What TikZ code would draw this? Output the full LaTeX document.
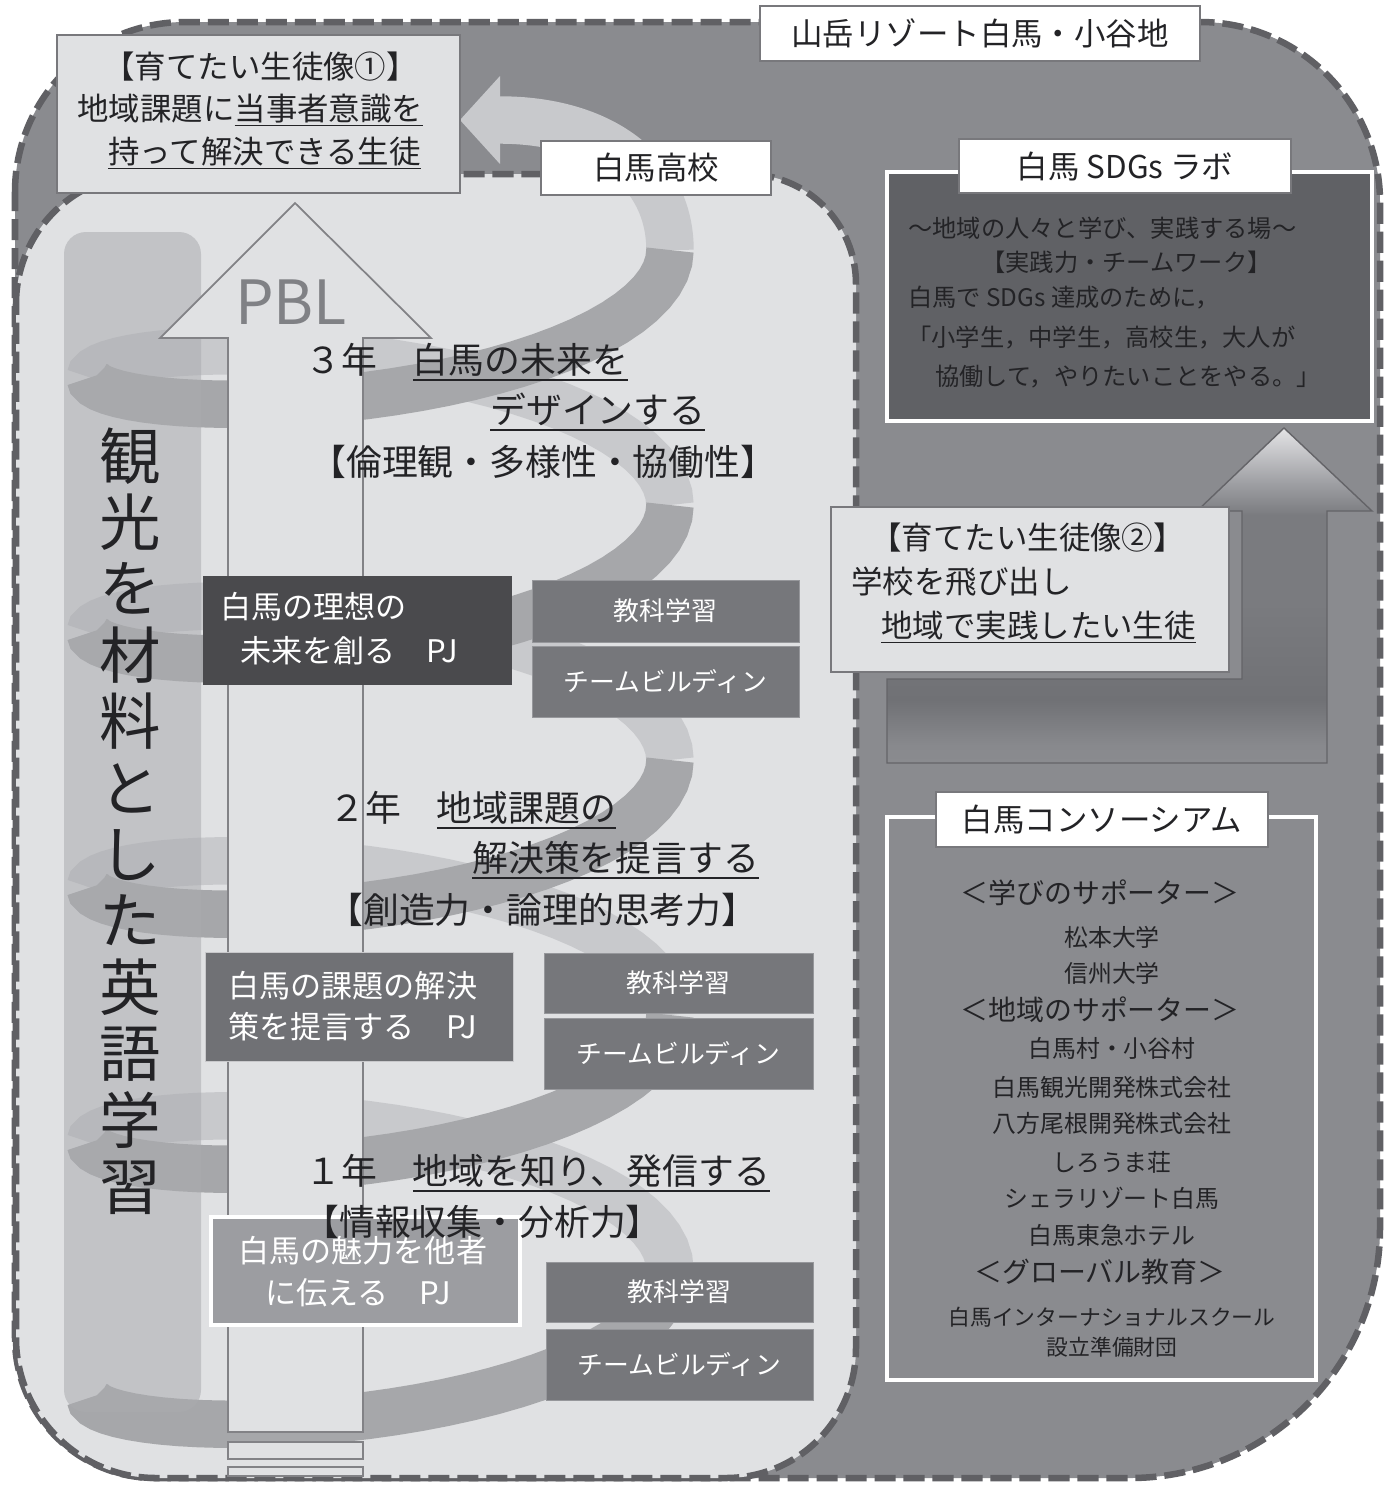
\documentclass[tikz,border=0pt]{standalone}
\usepackage{fontspec}
\setmainfont{Noto Sans CJK JP}
\usepackage{tikz}

\definecolor{outerbg}{RGB}{138,139,143}
\definecolor{schoolbg}{RGB}{224,225,227}
\definecolor{dashgray}{RGB}{96,96,100}
\definecolor{ribbonback}{RGB}{200,201,204}
\definecolor{ribbonfront}{RGB}{166,167,170}
\definecolor{barfill}{RGB}{170,171,175}
\definecolor{pbledge}{RGB}{130,130,134}
\definecolor{pbltext}{RGB}{128,129,133}
\definecolor{pjdark}{RGB}{74,74,77}
\definecolor{pjmid}{RGB}{112,113,117}
\definecolor{pjedge}{RGB}{200,200,203}
\definecolor{pjlight}{RGB}{156,157,161}
\definecolor{subjfill}{RGB}{118,119,123}
\definecolor{subjedge}{RGB}{150,151,155}
\definecolor{labfill}{RGB}{96,97,101}
\definecolor{inkdark}{RGB}{35,35,38}
\definecolor{boxedge}{RGB}{120,120,124}
\definecolor{arrowedge}{RGB}{100,100,104}
\definecolor{arrowtop}{RGB}{228,228,230}
\definecolor{arrowhigh}{RGB}{160,161,165}
\definecolor{arrowmid}{RGB}{122,123,127}
\definecolor{arrowdeep}{RGB}{112,113,117}
\definecolor{arrowlow}{RGB}{136,137,141}

\pgfdeclareverticalshading{arrowfade}{100bp}{color(0bp)=(outerbg); color(25bp)=(outerbg);
  color(27.7bp)=(arrowlow); color(34.4bp)=(arrowdeep); color(49bp)=(arrowmid);
  color(62bp)=(arrowmid); color(67bp)=(arrowhigh); color(75bp)=(arrowtop); color(100bp)=(arrowtop)}

\newcommand{\fslabel}{\fontsize{17.9}{21}\selectfont}
\newcommand{\fsyear}{\fontsize{20.4}{24}\selectfont}
\newcommand{\fspj}{\fontsize{17.7}{21}\selectfont}
\newcommand{\fssubj}{\fontsize{14.7}{18}\selectfont}
\newcommand{\fslab}{\fontsize{13.8}{17}\selectfont}
\newcommand{\fshead}{\fontsize{15.9}{19}\selectfont}
\newcommand{\fsitem}{\fontsize{13.6}{16}\selectfont}
\newcommand{\fssmall}{\fontsize{12.4}{15}\selectfont}
\newcommand{\fsvert}{\fontsize{35}{37.8}\selectfont}
\newcommand{\fspbl}{\fontsize{34.7}{40}\selectfont}
\newcommand{\undl}[1]{\setbox0=\hbox{#1}\rlap{\raisebox{-0.2em}{\rule{\wd0}{0.055em}}}\box0}

\tikzset{
  dashborder/.style={draw=dashgray, line width=3.7pt, dash pattern=on 12pt off 4.5pt},
  labelbox/.style={draw=boxedge, fill=white, line width=0.7pt, font=\fslabel, text=inkdark, inner sep=0pt},
  wishbox/.style={draw=boxedge, fill=schoolbg, line width=0.7pt},
  wishtext/.style={anchor=west, inner sep=0pt, font=\fslabel, text=inkdark},
  yeartext/.style={anchor=west, inner sep=0pt, font=\fsyear, text=inkdark},
  pjtext/.style={anchor=west, inner sep=0pt, font=\fspj, text=white},
  subjbox/.style={fill=subjfill, draw=subjedge, line width=0.5pt, font=\fssubj, text=white, inner sep=0pt},
  labtext/.style={anchor=west, inner sep=0pt, font=\fslab, text=inkdark},
  constext/.style={inner sep=0pt, font=\fsitem, text=inkdark},
  ribbonrear/.style={draw=ribbonback, line width=27pt, line cap=butt},
  ribbonfore/.style={draw=ribbonfront, line width=27pt, line cap=butt},
  pblline/.style={draw=pbledge, fill=schoolbg, line width=1pt}
}

\begin{document}
\begin{tikzpicture}[x=0.02cm, y=-0.02cm]
  \useasboundingbox (0,0) rectangle (1391,1485);
  \fill[white] (0,0) rectangle (1391,1485);

  % region: mountain resort
  \path[fill=outerbg] (15,192) .. controls (15,98) and (91,22) .. (185,22) -- (1200,22)
    .. controls (1299,22) and (1380,103) .. (1380,202) -- (1380,1228)
    .. controls (1380,1366) and (1268,1478) .. (1130,1478) -- (155,1478)
    .. controls (78,1478) and (15,1415) .. (15,1338) -- cycle;
  \draw[dashborder] (15,192) .. controls (15,98) and (91,22) .. (185,22) -- (1200,22)
    .. controls (1299,22) and (1380,103) .. (1380,202) -- (1380,1228)
    .. controls (1380,1366) and (1268,1478) .. (1130,1478) -- (155,1478)
    .. controls (78,1478) and (15,1415) .. (15,1338) -- cycle;

  % region: high school
  \path[fill=schoolbg] (16,304) .. controls (16,232) and (74,174) .. (146,174) -- (746,174)
    .. controls (807,174) and (856,223) .. (856,284) -- (856,1348)
    .. controls (856,1420) and (798,1478) .. (726,1478) -- (156,1478)
    .. controls (79,1478) and (16,1415) .. (16,1338) -- cycle;
  \draw[dashborder] (16,304) .. controls (16,232) and (74,174) .. (146,174) -- (746,174)
    .. controls (807,174) and (856,223) .. (856,284) -- (856,1348)
    .. controls (856,1420) and (798,1478) .. (726,1478) -- (156,1478)
    .. controls (79,1478) and (16,1415) .. (16,1338) -- cycle;

  % spiral, rear half-turns
  \foreach \k in {1,3,5,7} {
    \pgfmathsetmacro{\ta}{(\k-9)*pi}
    \pgfmathsetmacro{\tb}{(\k-8)*pi}
    \draw[ribbonrear] plot[domain=\ta:\tb, samples=36, variable=\t]
      ({380+290*cos(\t r)}, {250-255*\t/(2*pi)-80*sin(\t r)});
  }
  \draw[ribbonrear] (670,250) .. controls (670,170) and (600,120) .. (500,120);
  \fill[ribbonback] (500,76) -- (500,164) -- (460,120) -- cycle;
  % spiral, front half-turns
  \foreach \k in {0,2,4,6,8} {
    \pgfmathsetmacro{\ta}{(\k-9)*pi}
    \pgfmathsetmacro{\tb}{(\k-8)*pi}
    \draw[ribbonfore] plot[domain=\ta:\tb, samples=36, variable=\t]
      ({380+290*cos(\t r)}, {250-255*\t/(2*pi)-80*sin(\t r)});
  }

  % vertical bar
  \fill[barfill, fill opacity=.55, rounded corners=0.44cm] (64,232) rectangle (201,1412);
  \node[font=\fsvert, align=center, text=inkdark, inner sep=0pt] (tourism) at (130,821)
    {観\\光\\を\\材\\料\\と\\し\\た\\英\\語\\学\\習};

  % PBL arrow
  \draw[pblline] (228,1432) -- (228,338) -- (160,338) -- (295,203) -- (431,338) -- (363,338) -- (363,1432) -- cycle;
  \draw[pblline] (228,1442) rectangle (363,1459);
  \draw[pblline] (228,1467) rectangle (363,1476);
  \node[font=\fspbl, text=pbltext, inner sep=0pt] (pbl) at (291,302) {PBL};

  % labels
  \draw[labelbox] (760,6) rectangle (1200,61) node(resort)[pos=.5] {山岳リゾート白馬・小谷地};
  \draw[labelbox] (541,141) rectangle (771,195) node(school)[pos=.5] {白馬高校};

  % wish 1
  \draw[wishbox] (57,35) rectangle (460,193);
  \node[wishtext] (wishonea) at (103,67) {【育てたい生徒像①】};
  \node[wishtext] (wishoneb) at (77,110) {地域課題に\undl{当事者意識を}};
  \node[wishtext] (wishonec) at (108,153) {\undl{持って解決できる生徒}};

  % year 3
  \node[yeartext] (yearthreea) at (305,362) {３年　\undl{白馬の未来を}};
  \node[yeartext] (yearthreeb) at (490,412) {\undl{デザインする}};
  \node[yeartext] (yearthreec) at (310,462) {【倫理観・多様性・協働性】};
  \fill[pjdark] (203,576) rectangle (512,685);
  \node[pjtext] (pjthreea) at (220,607) {白馬の理想の};
  \node[pjtext] (pjthreeb) at (240,651) {未来を創る　PJ};
  \draw[subjbox] (532,580) rectangle (799,642) node(subjthreea)[pos=.5] {教科学習};
  \draw[subjbox] (532,646) rectangle (799,717) node(subjthreeb)[pos=.5] {チームビルディン};

  % year 2
  \node[yeartext] (yeartwoa) at (329,810) {２年　\undl{地域課題の}};
  \node[yeartext] (yeartwob) at (472,860) {\undl{解決策を提言する}};
  \node[yeartext] (yeartwoc) at (327,910) {【創造力・論理的思考力】};
  \draw[fill=pjmid, draw=pjedge, line width=0.5pt] (205,952) rectangle (513,1061);
  \node[pjtext] (pjtwoa) at (228,986) {白馬の課題の解決};
  \node[pjtext] (pjtwob) at (228,1027) {策を提言する　PJ};
  \draw[subjbox] (544,953) rectangle (813,1013) node(subjtwoa)[pos=.5] {教科学習};
  \draw[subjbox] (544,1018) rectangle (813,1089) node(subjtwob)[pos=.5] {チームビルディン};

  % year 1
  \draw[fill=pjlight, draw=white, line width=2.2pt] (211,1217) rectangle (520,1325);
  \node[pjtext] (pjonea) at (238,1251) {白馬の魅力を他者};
  \node[pjtext] (pjoneb) at (265,1293) {に伝える　PJ};
  \node[yeartext] (yearonea) at (305,1173) {１年　\undl{地域を知り、発信する}};
  \node[yeartext] (yearoneb) at (303,1222) {【情報収集・分析力】};
  \draw[subjbox] (546,1262) rectangle (813,1322) node(subjonea)[pos=.5] {教科学習};
  \draw[subjbox] (546,1329) rectangle (813,1400) node(subjoneb)[pos=.5] {チームビルディン};

  % SDGs lab
  \draw[fill=labfill, draw=white, line width=2pt] (887,172) rectangle (1372,421);
  \draw[labelbox] (959,139) rectangle (1291,193) node(sdgslabel)[pos=.5] {白馬 SDGs ラボ};
  \node[labtext] (laba) at (908,228) {～地域の人々と学び、実践する場～};
  \node[labtext] (labb) at (981,262) {【実践力・チームワーク】};
  \node[labtext] (labc) at (908,298) {白馬で SDGs 達成のために，};
  \node[labtext] (labd) at (907,338) {「小学生，中学生，高校生，大人が};
  \node[labtext] (labe) at (935,377) {協働して，やりたいことをやる。」};

  % arrow out of school
  \shadedraw[shading=arrowfade, draw=arrowedge, line width=0.8pt] (887,679) -- (1242,679) -- (1242,511)
    -- (1197,511) -- (1284,428) -- (1372,511) -- (1327,511) -- (1327,763) -- (887,763) -- cycle;

  % wish 2
  \draw[wishbox] (831,507) rectangle (1229,672);
  \node[wishtext] (wishtwoa) at (870,538) {【育てたい生徒像②】};
  \node[wishtext] (wishtwob) at (851,582) {学校を飛び出し};
  \node[wishtext] (wishtwoc) at (881,627) {\undl{地域で実践したい生徒}};

  % consortium
  \draw[fill=outerbg, draw=white, line width=2pt] (887,817) rectangle (1316,1380);
  \draw[labelbox] (936,792) rectangle (1268,847) node(conslabel)[pos=.5] {白馬コンソーシアム};
  \node[constext, font=\fshead] (learnsup) at (1100,893) {＜学びのサポーター＞};
  \node[constext] (matsumoto) at (1112,937) {松本大学};
  \node[constext] (shinshu) at (1112,973) {信州大学};
  \node[constext, font=\fshead] (localsup) at (1100,1010) {＜地域のサポーター＞};
  \node[constext] (villages) at (1112,1048) {白馬村・小谷村};
  \node[constext] (kanko) at (1112,1087) {白馬観光開発株式会社};
  \node[constext] (happo) at (1112,1123) {八方尾根開発株式会社};
  \node[constext] (shiroumaso) at (1112,1162) {しろうま荘};
  \node[constext] (sierra) at (1112,1198) {シェラリゾート白馬};
  \node[constext] (tokyu) at (1112,1235) {白馬東急ホテル};
  \node[constext, font=\fshead] (globaledu) at (1100,1272) {＜グローバル教育＞};
  \node[constext, font=\fssmall] (intschool) at (1112,1317) {白馬インターナショナルスクール};
  \node[constext, font=\fssmall] (foundation) at (1112,1347) {設立準備財団};
\end{tikzpicture}
\end{document}
